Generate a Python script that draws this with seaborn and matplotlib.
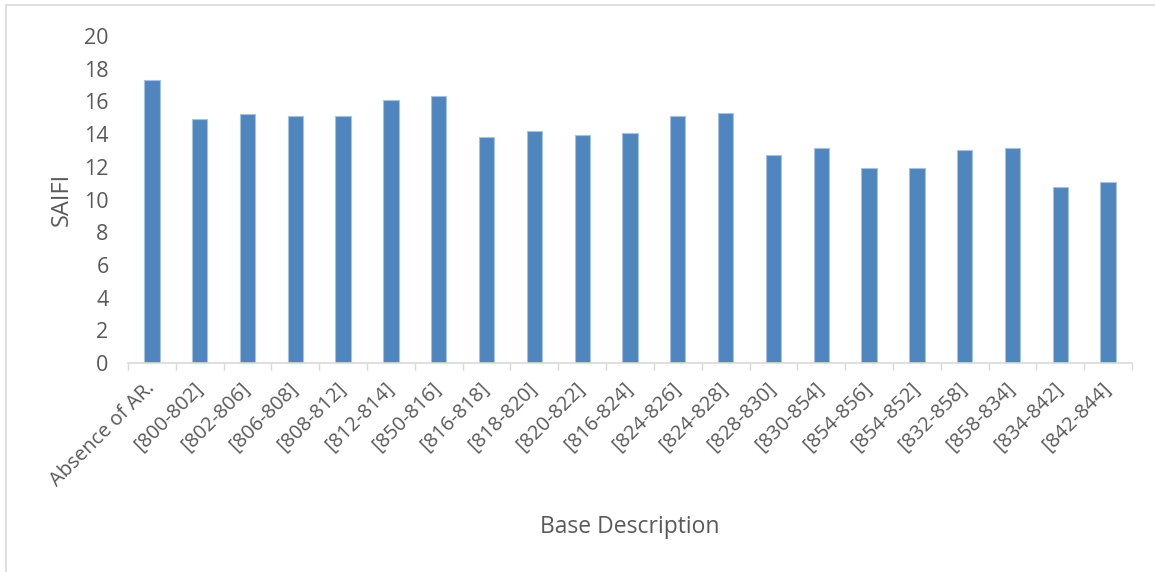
import matplotlib
matplotlib.use("Agg")
import matplotlib.pyplot as plt
from matplotlib.patches import Rectangle
import seaborn as sns
import pandas as pd
import numpy as np

# Feeder sections and the SAIFI obtained for each recloser placement
sections = [
    "Absence of AR.", "[800-802]", "[802-806]", "[806-808]", "[808-812]",
    "[812-814]", "[850-816]", "[816-818]", "[818-820]", "[820-822]",
    "[816-824]", "[824-826]", "[824-828]", "[828-830]", "[830-854]",
    "[854-856]", "[854-852]", "[832-858]", "[858-834]", "[834-842]",
    "[842-844]",
]
saifi = [
    17.3, 14.9, 15.2, 15.1, 15.1,
    16.1, 16.35, 13.8, 14.2, 13.95,
    14.05, 15.1, 15.3, 12.75, 13.15,
    11.95, 11.95, 13.0, 13.15, 10.75,
    11.1,
]
y_ticks = [0, 2, 4, 6, 8, 10, 12, 14, 16, 18, 20]

df = pd.DataFrame({"Base Description": sections, "SAIFI": saifi})

sns.set_theme(style="white")
plt.rcParams["font.family"] = ["Open Sans", "DejaVu Sans"]

text_gray = "#595959"
bar_blue = "#4F86BD"

fig = plt.figure(figsize=(11.55, 5.72), dpi=100)
ax = fig.add_axes([128 / 1155, 1 - 363 / 572, (1132 - 128) / 1155, (363 - 36) / 572])

sns.barplot(
    data=df, x="Base Description", y="SAIFI", order=sections,
    color=bar_blue, width=0.32, edgecolor="#A7C2E0", linewidth=0.8,
    saturation=1, ax=ax,
)

ax.set_ylim(0, 20)
ax.set_xlim(-0.5, len(sections) - 0.5)
ax.set_yticks(y_ticks)
ax.set_yticklabels([str(t) for t in y_ticks], fontsize=15.5, color=text_gray)
ax.tick_params(axis="y", length=0, pad=14)

# category labels, with small tick marks between categories
ax.set_xticks(np.arange(len(sections)))
ax.set_xticklabels(sections, rotation=45, ha="right", va="center",
                   rotation_mode="anchor", fontsize=14.5, color=text_gray)
ax.tick_params(axis="x", which="major", length=0, pad=16)
ax.set_xticks(np.arange(len(sections) + 1) - 0.5, minor=True)
ax.tick_params(axis="x", which="minor", length=5, width=1, color="#D9D9D9",
               direction="out", bottom=True)

for side in ("top", "right", "left"):
    ax.spines[side].set_visible(False)
ax.spines["bottom"].set_color("#D9D9D9")
ax.spines["bottom"].set_linewidth(1.2)

ax.set_ylabel("SAIFI", fontsize=17, color=text_gray)
ax.yaxis.set_label_coords(-0.054, 0.5)
ax.set_xlabel("Base Description", fontsize=16.5, color=text_gray)
ax.xaxis.set_label_coords(0.5, -0.465)

# chart frame
fig.patches.append(Rectangle((6 / 1155, -0.1), 1.2, 1 - 5 / 572 + 0.1,
                             transform=fig.transFigure, fill=False,
                             edgecolor="#D9D9D9", linewidth=1.2))

fig.savefig("out.png", dpi=100, facecolor="white")
